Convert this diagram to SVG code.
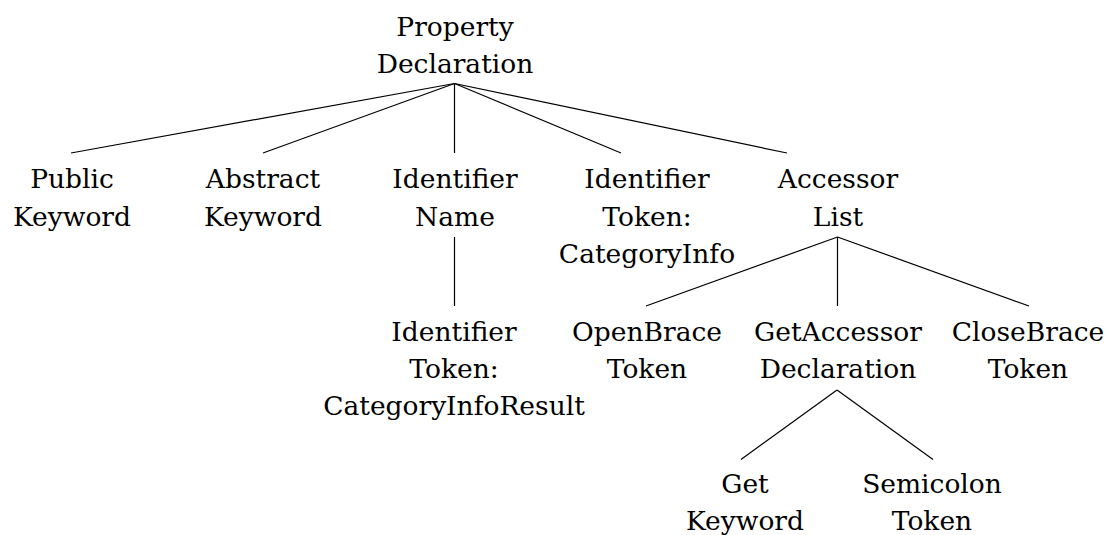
<svg xmlns="http://www.w3.org/2000/svg" width="1111" height="535" viewBox="0 0 1111 535">
<style>
.e line{stroke:#000;stroke-width:1.2}
text{font-family:'DejaVu Serif',serif;font-size:26.5px;fill:#000;text-anchor:middle}
</style>
<rect width="1111" height="535" fill="#fff"/>
<g class="e" id="connectors">
<line x1="454.5" y1="83.5" x2="71" y2="153"/>
<line x1="454.5" y1="83.5" x2="263" y2="153"/>
<line x1="454.5" y1="83.5" x2="454.5" y2="153"/>
<line x1="454.5" y1="83.5" x2="621" y2="153"/>
<line x1="454.5" y1="83.5" x2="787" y2="153"/>
<line x1="454.5" y1="237" x2="454.5" y2="306"/>
<line x1="837.5" y1="237" x2="646" y2="306"/>
<line x1="837.5" y1="237" x2="837.5" y2="306"/>
<line x1="837.5" y1="237" x2="1029" y2="306"/>
<line x1="837" y1="390" x2="741" y2="459.5"/>
<line x1="837" y1="390" x2="933" y2="459.5"/>
</g>
<g id="n-property"><text x="455" y="36">Property</text><text x="455" y="73">Declaration</text></g>
<g id="n-public"><text x="72" y="188">Public</text><text x="72" y="225.5">Keyword</text></g>
<g id="n-abstract"><text x="263" y="188">Abstract</text><text x="263" y="225.5">Keyword</text></g>
<g id="n-idname"><text x="455" y="188">Identifier</text><text x="455" y="225.5">Name</text></g>
<g id="n-idtoken1"><text x="647" y="188">Identifier</text><text x="647" y="225.5">Token:</text><text x="647" y="263">CategoryInfo</text></g>
<g id="n-accessorlist"><text x="838" y="188">Accessor</text><text x="838" y="225.5">List</text></g>
<g id="n-idtoken2"><text x="454" y="341">Identifier</text><text x="454" y="378">Token:</text><text x="454" y="415">CategoryInfoResult</text></g>
<g id="n-openbrace"><text x="647" y="341">OpenBrace</text><text x="647" y="378">Token</text></g>
<g id="n-getaccessor"><text x="838" y="341">GetAccessor</text><text x="838" y="378">Declaration</text></g>
<g id="n-closebrace"><text x="1028" y="341">CloseBrace</text><text x="1028" y="378">Token</text></g>
<g id="n-get"><text x="745" y="493">Get</text><text x="745" y="530">Keyword</text></g>
<g id="n-semicolon"><text x="932" y="493">Semicolon</text><text x="932" y="530">Token</text></g>
</svg>
